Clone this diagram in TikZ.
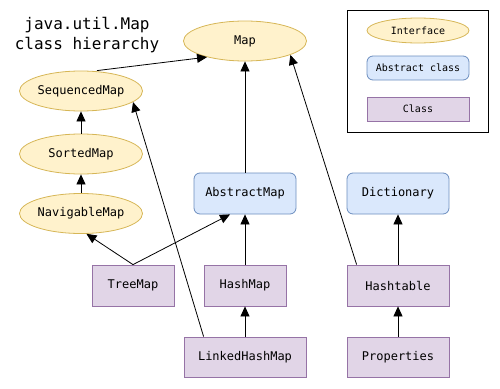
\documentclass[tikz,border=0pt]{standalone}
\usepackage{fontspec}
\setmonofont{DejaVu Sans Mono}
\usepackage{tikz}
\usetikzlibrary{arrows.meta,shapes.geometric}

\definecolor{ifacefill}{HTML}{FFF2CC}
\definecolor{ifacedraw}{HTML}{D6B656}
\definecolor{absfill}{HTML}{DAE8FC}
\definecolor{absdraw}{HTML}{6C8EBF}
\definecolor{clsfill}{HTML}{E1D5E7}
\definecolor{clsdraw}{HTML}{9673A6}

\begin{document}
\begin{tikzpicture}[x=1pt,y=-1pt,>={Triangle[width=9pt,length=10pt]},
    iface/.style={ellipse,draw=ifacedraw,fill=ifacefill,line width=0.8pt,inner sep=0pt,
        minimum width=123pt,minimum height=40pt,font=\ttfamily\fontsize{12}{14}\selectfont},
    absclass/.style={rectangle,rounded corners=6pt,draw=absdraw,fill=absfill,line width=0.8pt,
        inner sep=0pt,minimum width=102pt,minimum height=41pt,font=\ttfamily\fontsize{12}{14}\selectfont},
    cls/.style={rectangle,draw=clsdraw,fill=clsfill,line width=0.8pt,inner sep=0pt,
        minimum width=82pt,minimum height=41pt,font=\ttfamily\fontsize{12}{14}\selectfont},
    small/.style={minimum width=102pt,minimum height=24pt,font=\ttfamily\fontsize{10}{12}\selectfont},
    inherit/.style={->,line width=0.8pt}]
            \useasboundingbox (0,0) rectangle (500,388);
            % title
            \node [align=center,font=\ttfamily\fontsize{16}{20}\selectfont] (title) at (87,35) {java.util.Map\\class hierarchy};
            % interfaces
            \node [iface] (map) at (245,41) {Map};
            \node [iface] (seq) at (81,91) {SequencedMap};
            \node [iface] (sorted) at (81,154) {SortedMap};
            \node [iface] (nav) at (81,213.5) {NavigableMap};
            % abstract classes
            \node [absclass] (abs) at (245,193.5) {AbstractMap};
            \node [absclass] (dict) at (398,193.5) {Dictionary};
            % classes
            \node [cls] (tree) at (133,285.5) {TreeMap};
            \node [cls] (hash) at (245,285.5) {HashMap};
            \node [cls,minimum width=102pt] (table) at (398,285.5) {Hashtable};
            \node [cls,minimum width=122pt,minimum height=40pt] (linked) at (245,357) {LinkedHashMap};
            \node [cls,minimum width=102pt,minimum height=40pt] (props) at (398,357) {Properties};
            % legend
            \draw [line width=0.8pt] (347,10) rectangle (488,132);
            \node [iface,small,minimum height=25pt] (legiface) at (418,30.5) {Interface};
            \node [absclass,small] (legabs) at (418,68) {Abstract class};
            \node [cls,small] (legcls) at (418,109) {Class};
            % inheritance arrows
            \draw [inherit] ([xshift=16pt]seq.north) -- (map.203);
            \draw [inherit] (sorted) -- (seq);
            \draw [inherit] (nav) -- (sorted);
            \draw [inherit] (abs) -- (map);
            \draw [inherit] (tree.north) -- (nav.-75);
            \draw [inherit] (tree.north) -- ([xshift=-15pt]abs.south);
            \draw [inherit] (hash) -- (abs);
            \draw [inherit] (linked) -- (hash);
            \draw [inherit] ([xshift=20pt]linked.north west) -- (seq.-12);
            \draw [inherit] ([xshift=10pt]table.north west) -- (map.-17);
            \draw [inherit] (table) -- (dict);
            \draw [inherit] (props) -- (table);
        \end{tikzpicture}
\end{document}
